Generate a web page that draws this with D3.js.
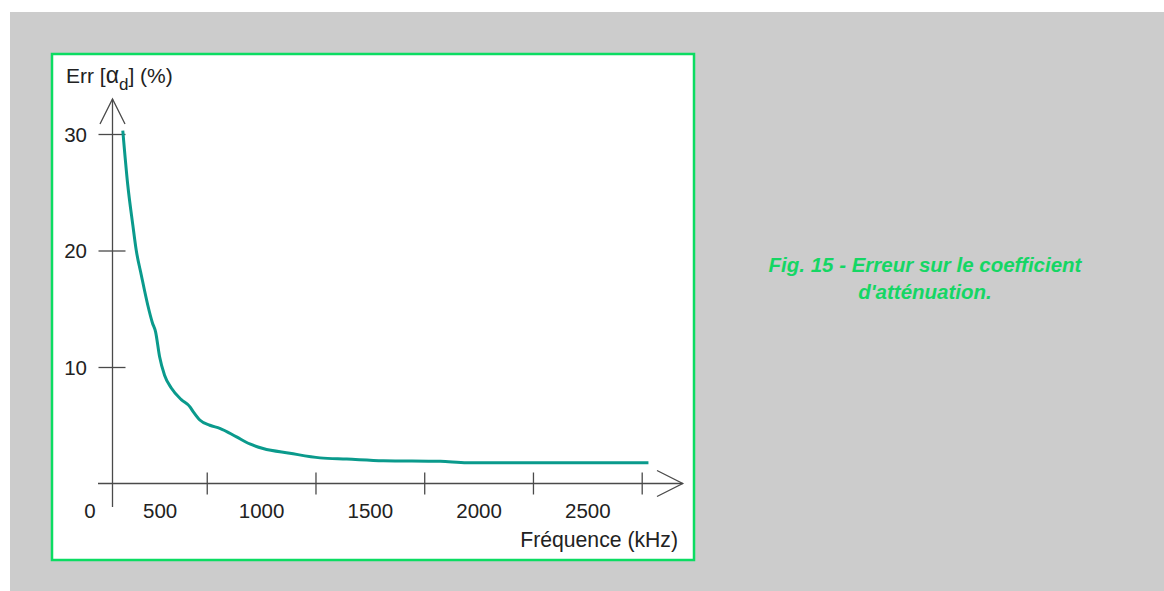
<!DOCTYPE html>
<html>
<head>
<meta charset="utf-8">
<script src="https://cdn.jsdelivr.net/npm/d3@7/dist/d3.min.js"></script>
<style>
  html, body { margin: 0; padding: 0; background: #ffffff; }
  svg { display: block; }
  text { font-family: "Liberation Sans", Arial, sans-serif; }
</style>
</head>
<body>
<svg id="chart" width="1164" height="591"></svg>
<script>
// Error on the attenuation coefficient versus frequency
const frequencyKHz = [114, 137, 160, 176, 199, 229, 250, 265, 283, 306, 337, 383, 422, 440, 468,
                      514, 560, 637, 698, 759, 882, 1021, 1144, 1312, 1574, 1697, 2531];
const errorPct     = [30.3, 25.6, 22.2, 20.0, 17.9, 15.3, 13.8, 13.0, 10.9, 9.3, 8.2, 7.2, 6.6, 6.1, 5.45,
                      5.0, 4.74, 4.0, 3.4, 3.0, 2.6, 2.2, 2.1, 1.96, 1.9, 1.78, 1.78];
const xTickValues = [500, 1000, 1500, 2000, 2500];
const yTickValues = [10, 20, 30];
const xTitle = "Fréquence (kHz)";
const captionLines = ["Fig. 15 - Erreur sur le coefficient", "d'atténuation."];

const svg = d3.select("#chart");
const axisColor = "#4a4a4a";
const fontSize = 20.5;

// page panel and framed plot area
svg.append("rect").attr("x", 10).attr("y", 12).attr("width", 1154).attr("height", 579).attr("fill", "#cccccc");
svg.append("rect").attr("x", 52).attr("y", 54).attr("width", 642).attr("height", 506)
  .attr("fill", "#ffffff").attr("stroke", "#0bdc62").attr("stroke-width", 2.5);

const x = d3.scaleLinear().domain([0, 2500]).range([98, 641.7]);
const y = d3.scaleLinear().domain([0, 30]).range([483.5, 134]);
const axisX0 = 112.5;   // vertical axis position
const axisY0 = y(0);

// axis lines with open arrow heads
const g = svg.append("g").attr("stroke", axisColor).attr("stroke-width", 1.3).attr("fill", "none");
g.append("line").attr("x1", axisX0).attr("x2", axisX0).attr("y1", 99).attr("y2", 507);
g.append("polyline").attr("points", `${axisX0 - 12.5},124 ${axisX0},99 ${axisX0 + 12.5},124`);
g.append("line").attr("x1", 98).attr("x2", 682.7).attr("y1", axisY0).attr("y2", axisY0);
g.append("polyline").attr("points", `657,${axisY0 - 13} 682.7,${axisY0} 657,${axisY0 + 13}`);

// horizontal axis: ticks at the values, labels centred in the interval ending at each tick
const xAxis = d3.axisBottom(x).tickValues(xTickValues).tickFormat(d3.format("d"))
  .tickSize(11).tickPadding(0);
const gx = svg.append("g").attr("transform", `translate(0,${axisY0})`).call(xAxis);
gx.select(".domain").remove();
gx.selectAll(".tick line").attr("y1", -11).attr("y2", 11).attr("stroke", axisColor).attr("stroke-width", 1.3);
gx.selectAll(".tick text")
  .attr("fill", "#222").attr("font-size", fontSize)
  .attr("y", 34.5).attr("dy", null)
  .attr("x", (d, i) => {
    const prev = i === 0 ? axisX0 : x(xTickValues[i - 1]);
    return (prev - x(d)) / 2;
  });

// zero label at the origin
svg.append("text").attr("x", 90).attr("y", 518).attr("text-anchor", "middle")
  .attr("font-size", fontSize).attr("fill", "#222").text("0");

// vertical axis
const yAxis = d3.axisLeft(y).tickValues(yTickValues).tickFormat(d3.format("d"))
  .tickSize(13).tickPadding(0);
const gy = svg.append("g").attr("transform", `translate(${axisX0},0)`).call(yAxis);
gy.select(".domain").remove();
gy.selectAll(".tick line").attr("x1", -14).attr("x2", 13).attr("stroke", axisColor).attr("stroke-width", 1.3);
gy.selectAll(".tick text").attr("fill", "#222").attr("font-size", fontSize)
  .attr("x", -25.5).attr("dy", "0.35em");

// axis titles
const yTitle = svg.append("text").attr("x", 66).attr("y", 83).attr("font-size", 21).attr("fill", "#222");
yTitle.append("tspan").text("Err [");
yTitle.append("tspan").attr("font-size", 23).text("α");
yTitle.append("tspan").attr("dy", 7).attr("font-size", 17).text("d");
yTitle.append("tspan").attr("dy", -7).text("] (%)");

svg.append("text").attr("x", 678).attr("y", 547).attr("text-anchor", "end")
  .attr("font-size", 21.2).attr("fill", "#222").text(xTitle);

// error curve
const line = d3.line().x((d, i) => x(frequencyKHz[i])).y(d => y(d)).curve(d3.curveMonotoneX);
svg.append("path").datum(errorPct).attr("d", line)
  .attr("fill", "none").attr("stroke", "#0a9a8c").attr("stroke-width", 3).attr("stroke-linejoin", "round");

// figure caption
const cap = svg.append("text").attr("text-anchor", "middle")
  .attr("font-size", 20.5).attr("font-weight", "bold").attr("font-style", "italic")
  .attr("fill", "#15d664");
captionLines.forEach((t, i) => {
  cap.append("tspan").attr("x", 925).attr("y", 272 + i * 26.5).text(t);
});
</script>
</body>
</html>
